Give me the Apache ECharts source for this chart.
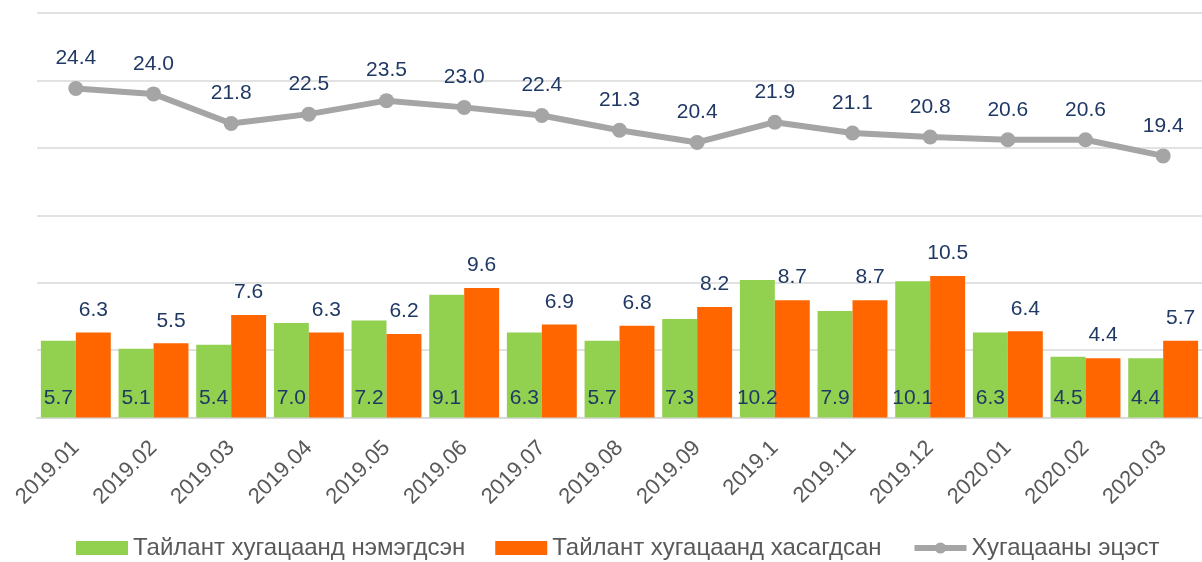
<!DOCTYPE html>
<html>
<head>
<meta charset="utf-8">
<script src="https://cdn.jsdelivr.net/npm/echarts@6/dist/echarts.min.js"></script>
<style>
  html, body { margin: 0; padding: 0; background: #fff; }
  #chart { width: 1202px; height: 562px; }
</style>
</head>
<body>
<div id="chart"></div>
<script>
// categories (months)
const months = ['2019.01', '2019.02', '2019.03', '2019.04', '2019.05', '2019.06', '2019.07', '2019.08',
  '2019.09', '2019.1', '2019.11', '2019.12', '2020.01', '2020.02', '2020.03']

// series values
const added = [5.7, 5.1, 5.4, 7.0, 7.2, 9.1, 6.3, 5.7, 7.3, 10.2, 7.9, 10.1, 6.3, 4.5, 4.4]
const removed = [6.3, 5.5, 7.6, 6.3, 6.2, 9.6, 6.9, 6.8, 8.2, 8.7, 8.7, 10.5, 6.4, 4.4, 5.7]
const balance = [24.4, 24.0, 21.8, 22.5, 23.5, 23.0, 22.4, 21.3, 20.4, 21.9, 21.1, 20.8, 20.6, 20.6, 19.4]

const seriesNames = ['Тайлант хугацаанд нэмэгдсэн', 'Тайлант хугацаанд хасагдсан', 'Хугацааны эцэст']

const FONT = '"Liberation Sans", Arial, sans-serif'
const labelColor = '#1F3864'
const fmt = p => p.value.toFixed(1)

const chart = echarts.init(document.getElementById('chart'))

chart.setOption({
  animation: false,
  backgroundColor: '#fff',
  textStyle: { fontFamily: FONT },
  grid: { left: 37, right: -3, top: 13, bottom: 144.5, containLabel: false },
  legend: {
    bottom: 2,
    left: 76,
    padding: 0,
    itemWidth: 52,
    itemHeight: 14,
    itemGap: 30,
    textStyle: { color: '#595959', fontSize: 24, fontFamily: FONT },
    data: [
      { name: seriesNames[0], icon: 'rect' },
      { name: seriesNames[1], icon: 'rect' },
      { name: seriesNames[2], lineStyle: { width: 6 } }
    ]
  },
  xAxis: {
    type: 'category',
    data: months,
    axisLine: { lineStyle: { color: '#D9D9D9', width: 2 } },
    axisTick: { show: false },
    axisLabel: { rotate: 45, margin: 27, color: '#595959', fontSize: 22, fontFamily: FONT, interval: 0 }
  },
  yAxis: {
    type: 'value',
    min: 0,
    max: 30,
    interval: 5,
    axisLine: { show: false },
    axisTick: { show: false },
    axisLabel: { show: false },
    splitLine: { lineStyle: { color: '#D9D9D9', width: 1.5 } }
  },
  series: [
    {
      name: seriesNames[0],
      type: 'bar',
      data: added,
      barGap: '0%',
      barCategoryGap: '10%',
      itemStyle: { color: '#92D050' },
      label: {
        show: true, position: 'insideBottom', distance: 9,
        color: labelColor, fontSize: 21, fontFamily: FONT, formatter: fmt
      }
    },
    {
      name: seriesNames[1],
      type: 'bar',
      data: removed,
      barGap: '0%',
      barCategoryGap: '10%',
      itemStyle: { color: '#FF6600' },
      label: {
        show: true, position: 'top', distance: 12,
        color: labelColor, fontSize: 21, fontFamily: FONT, formatter: fmt
      }
    },
    {
      name: seriesNames[2],
      type: 'line',
      data: balance,
      symbol: 'circle',
      symbolSize: 15,
      lineStyle: { color: '#A5A5A5', width: 6 },
      itemStyle: { color: '#A5A5A5' },
      label: {
        show: true, position: 'top', distance: 12,
        color: labelColor, fontSize: 21, fontFamily: FONT, formatter: fmt
      }
    }
  ]
})
</script>
</body>
</html>
